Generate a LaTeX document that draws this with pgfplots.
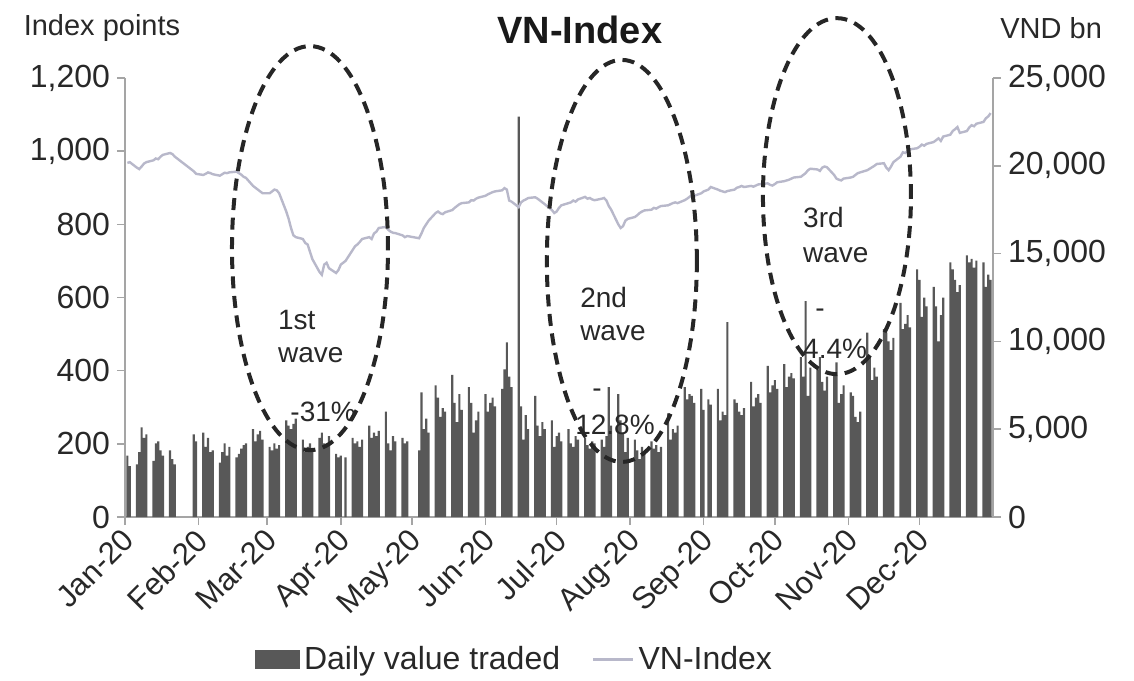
\documentclass[border=0pt]{standalone}
\usepackage{fontspec}
\setmainfont{Liberation Sans}
\usepackage{pgfplots}
\usepackage{pgfplotstable}
\pgfplotsset{compat=1.18}
\definecolor{barc}{RGB}{88,88,88}
\definecolor{linec}{RGB}{184,184,202}
\definecolor{axc}{RGB}{165,165,165}
\definecolor{txt}{RGB}{40,40,40}

\pgfplotstableread{
d idx val
1 968 3500
2 970 2900
5 955 3000
6 951 3700
7 958 5100
8 966 4500
9 970 4700
12 975 3200
13 980 4200
14 978 4300
15 985 3800
16 990 3500
19 995 3800
20 992 3300
21 985 3000
29 945 4700
30 938 4300
33 935 4800
34 938 4000
35 942 4500
36 940 3700
37 937 3800
40 933 3100
41 937 3700
42 941 4200
43 940 3500
44 942 4000
47 944 3400
48 940 3600
49 936 3900
50 930 4100
51 927 4200
54 905 5000
55 900 4300
56 895 4700
57 890 4900
58 885 4400
61 885 4000
62 890 3800
63 895 4200
64 893 3900
65 885 4100
68 835 5500
69 815 5200
70 790 5000
71 770 5300
72 765 5600
75 760 4400
76 749 3700
77 745 4000
78 725 4200
79 705 3900
82 670 4500
83 662 4800
84 690 4200
85 695 4000
86 680 4600
89 667 3600
90 675 3400
91 690 3500
93 700 3400
96 730 4500
97 740 4200
98 745 4300
99 752 4000
100 760 4400
103 765 5200
104 760 4500
105 775 4800
106 780 4600
107 790 4900
110 793 6000
111 785 4200
112 780 3800
113 777 4600
114 776 4300
117 770 4500
118 765 4200
119 768 4300
124 762 3800
125 775 7100
126 790 5000
127 800 5600
128 810 4800
131 831 7500
132 835 6800
133 830 5700
134 828 6200
135 833 6000
138 839 8100
139 845 6500
140 850 5400
141 855 7000
142 858 6100
145 860 7400
146 866 6500
147 865 4800
148 870 5500
149 873 6000
152 878 7000
153 882 6000
154 885 6500
155 888 6800
156 890 6300
159 893 7300
160 899 8400
161 895 9950
162 865 8000
163 862 7400
166 847 22800
167 860 6300
168 865 4400
169 868 5800
170 872 5000
173 874 6900
174 870 5200
175 865 4600
176 860 5400
177 855 5000
180 839 5500
181 831 4000
182 835 4600
183 845 4800
184 852 4300
187 858 5000
188 860 4200
189 865 4000
190 862 4600
191 868 4400
194 875 4500
195 870 4100
196 872 3900
197 868 4300
198 866 4200
201 870 4400
202 872 4000
203 865 4600
204 850 7400
205 840 5200
208 800 7000
209 790 5500
210 795 4800
211 810 3700
212 815 4500
215 820 4400
216 825 3800
217 831 3300
218 835 4000
219 838 3600
222 840 4300
223 845 3900
224 843 4100
225 847 3700
226 850 4000
229 852 5900
230 855 4400
231 858 5000
232 860 4800
233 858 5200
236 866 7400
237 870 6700
238 875 7000
239 880 6900
240 878 6500
243 885 7300
244 890 6100
246 895 6700
247 902 6400
250 895 7300
251 892 5500
252 890 6000
253 888 5800
254 891 11100
257 895 6700
258 900 6500
259 902 6000
260 905 5800
261 902 6200
264 905 7700
265 903 6300
266 906 6800
267 909 7000
268 910 6500
271 912 8600
272 908 7100
273 906 7500
274 910 7800
275 915 7300
278 918 8700
279 920 7400
280 922 8000
281 925 8200
282 928 7900
285 930 9100
286 935 8000
287 940 12300
288 948 6900
289 952 8500
292 950 8400
293 946 9100
294 955 7700
295 958 7200
296 956 8000
299 935 8200
300 925 8800
301 922 6500
302 920 7000
303 925 7500
306 928 7100
307 930 6900
308 935 5700
309 940 5400
310 942 6000
313 948 10500
314 952 9100
315 956 7800
316 960 8500
317 965 8000
320 967 10700
321 955 10500
322 948 10000
323 958 9500
324 970 10200
327 985 12200
328 997 10700
329 995 11000
330 1000 11500
331 1005 10800
334 1008 14100
335 1012 13500
336 1018 11400
337 1015 12500
338 1020 12000
341 1025 13100
342 1030 12000
343 1035 10000
344 1028 11500
345 1040 12500
348 1045 14500
349 1055 14100
350 1060 13500
351 1066 12800
352 1050 13200
355 1055 14900
356 1065 14500
357 1071 14700
358 1068 14200
359 1075 14600
362 1080 14500
363 1090 13100
364 1095 13800
365 1104 13500
}\data

\pgfplotsset{
  common/.style={
    scale only axis, width=434pt, height=219.5pt,
    xmin=0, xmax=366, clip=false,
    axis line style={axc, line width=0.8pt},
    tick style={axc, line width=0.8pt},
    tick align=outside, major tick length=4pt,
    /pgf/number format/assume math mode=true,
    scaled y ticks=false,
    yticklabel style={/pgf/number format/1000 sep={,}, font=\fontsize{16}{16}\selectfont, text=txt},
  },
}
\tikzset{
  ell/.style={dash pattern=on 6pt off 3.8pt, line width=2pt, black!85},
  ann/.style={font=\fontsize{14}{14}\selectfont, text=txt, anchor=west, inner sep=0pt},
}

\begin{document}
\begin{tikzpicture}
\useasboundingbox (-62.5pt,-81.5pt) rectangle (504.5pt,258.5pt);
\begin{axis}[common,
  ymin=0, ymax=25000,
  axis y line*=right, axis x line*=bottom,
  ytick={0,5000,...,25000},
  xtick={0,31,60,91,121,152,182,213,244,274,305,335},
  xticklabels={Jan-20,Feb-20,Mar-20,Apr-20,May-20,Jun-20,Jul-20,Aug-20,Sep-20,Oct-20,Nov-20,Dec-20},
  xticklabel style={rotate=45, anchor=north east, inner sep=1pt, xshift=-1pt, yshift=2pt, font=\fontsize{15.5}{15.5}\selectfont, text=txt},
]
\addplot[ybar, bar width=0.9, fill=barc, draw=none] table[x=d,y=val]{\data};
\end{axis}
\begin{axis}[common,
  ymin=0, ymax=1200,
  axis y line*=left, axis x line=none,
  ytick={0,200,...,1200},
  legend style={at={(0.45,-0.325)}, anchor=center, legend columns=2, draw=none, fill=none,
    font=\fontsize{16}{16}\selectfont, text=txt,
    /tikz/every even column/.append style={column sep=14pt}},
]
\addlegendimage{legend image code/.code={\fill[barc] (0pt,-4.5pt) rectangle (22pt,4.5pt);}}
\addlegendentry{Daily value traded}
\addplot[linec, line width=1.2pt, legend image code/.code={\draw[linec, line width=1.2pt] (0pt,0pt) -- (20pt,0pt);}] table[x=d,y=idx]{\data};
\addlegendentry{VN-Index}

\draw[ell] (axis cs:78,735) ellipse [x radius=39pt, y radius=101pt];
\draw[ell] (axis cs:209.5,700) ellipse [x radius=37.5pt, y radius=100.5pt];
\draw[ell] (axis cs:300.2,877) ellipse [x radius=37pt, y radius=89pt];

\node[ann] at (axis cs:64.4,538) {1st};
\node[ann] at (axis cs:64.4,443) {wave};
\node[ann] at (axis cs:69.6,287) {-31\%};
\node[ann] at (axis cs:191.8,601) {2nd};
\node[ann] at (axis cs:191.8,503) {wave};
\node[ann] at (axis cs:196.9,339) {-};
\node[ann] at (axis cs:189.7,251) {12.8\%};
\node[ann] at (axis cs:285.8,820) {3rd};
\node[ann] at (axis cs:285.8,716) {wave};
\node[ann] at (axis cs:290.9,558) {-};
\node[ann] at (axis cs:285.8,459) {4.4\%};

\node[font=\bfseries\fontsize{19}{19}\selectfont, text=black!90] at (rel axis cs:0.524,1.109) {VN-Index};
\node[font=\fontsize{14.5}{14.5}\selectfont, text=txt] at (rel axis cs:-0.0265,1.114) {Index points};
\node[font=\fontsize{14.5}{14.5}\selectfont, text=txt] at (rel axis cs:1.067,1.114) {VND bn};
\end{axis}
\end{tikzpicture}
\end{document}
